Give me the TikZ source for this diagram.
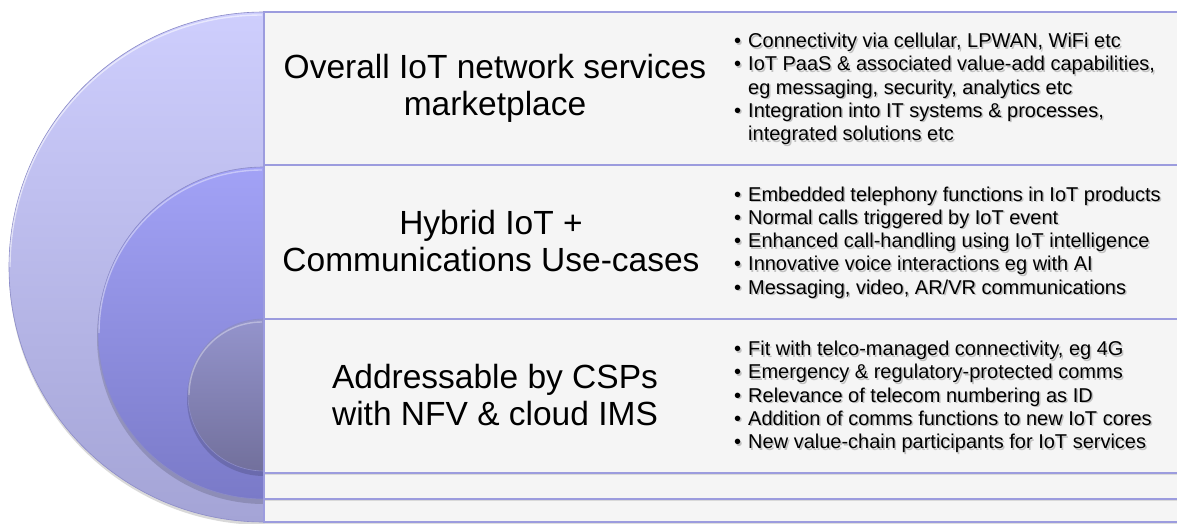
\documentclass[tikz,border=0pt]{standalone}
\usepackage{fontspec}
\setmainfont{Liberation Sans}
\definecolor{oTop}{HTML}{CECEFD}
\definecolor{oBot}{HTML}{A4A4D6}
\definecolor{mTop}{HTML}{A2A2F6}
\definecolor{mBot}{HTML}{7A7AC8}
\definecolor{iTop}{HTML}{9494CC}
\definecolor{iBot}{HTML}{72709C}
\definecolor{panelfill}{HTML}{F5F5F5}
\definecolor{panelline}{HTML}{9C9CDE}
\definecolor{ringedge}{HTML}{8C8CC8}
\newcommand{\bl}[1]{\makebox[14pt][l]{\textbullet}#1}
\newcommand{\cont}[1]{\hspace*{14pt}#1}
\begin{document}
\begin{tikzpicture}[x=1pt,y=1pt,
  panel/.style={fill=panelfill,draw=panelline,line width=1.2pt},
  ring/.style={draw=ringedge,line width=0.6pt},
  ringshadow/.style={fill=black,opacity=0.15},
  hilite/.style={draw=white,opacity=0.55,line width=1.4pt},
  title/.style={align=center,font=\fontsize{33.5}{37}\selectfont,text=black},
  bullets/.style={align=left,anchor=west,font=\fontsize{20}{23.3}\selectfont,text=black,inner sep=0pt},
  tshadow/.style={align=left,anchor=west,font=\fontsize{20}{23.3}\selectfont,text=black!45,opacity=0.5,inner sep=0pt}]
\useasboundingbox (0,0) rectangle (1177,523);
\fill[white] (0,0) rectangle (1177,523);
% panels
\path[panel] (264,1) rectangle (1180,511);
\draw[black!25,line width=1pt,opacity=0.5] (264,-0.5) -- (1180,-0.5);
\path[panel] (264,24) rectangle (1180,358);
\draw[black!25,line width=1pt,opacity=0.5] (264,22.5) -- (1180,22.5);
\path[panel] (264,50) rectangle (1180,204);
\draw[black!25,line width=1pt,opacity=0.5] (264,48.5) -- (1180,48.5);
% outer ring
\fill[ringshadow] (264,508) arc[start angle=90,end angle=270,radius=255] -- cycle;
\shade[ring,top color=oTop,bottom color=oBot] (264,511) arc[start angle=90,end angle=270,radius=255] -- cycle;
\draw[hilite] (262,508) arc[start angle=90,end angle=180,radius=252];
% middle ring
\fill[ringshadow] (264,353) arc[start angle=90,end angle=270,radius=167] -- cycle;
\shade[ring,top color=mTop,bottom color=mBot] (264,356) arc[start angle=90,end angle=270,radius=166] -- cycle;
\draw[hilite,opacity=0.4] (262,353) arc[start angle=90,end angle=180,radius=163];
% inner ring
\fill[ringshadow] (264,201) arc[start angle=90,end angle=270,radius=77] -- cycle;
\shade[ring,top color=iTop,bottom color=iBot] (264,204) arc[start angle=90,end angle=270,radius=76] -- cycle;
\draw[hilite,opacity=0.35] (262,201) arc[start angle=90,end angle=180,radius=73];
% divider line
\draw[panelline,line width=1.2pt] (264,0) -- (264,511);
% titles
\node[title] (t1) at (495,434.5) {Overall IoT network services\\marketplace};
\node[title] (t2) at (491,282) {Hybrid IoT +\\Communications Use-cases};
\node[title] (t3) at (495,128) {Addressable by CSPs\\with NFV \& cloud IMS};
% bullet shadows
\node[tshadow] (b1s) at (735.5,432.5) {\bl{Connectivity via cellular, LPWAN, WiFi etc}\\\bl{IoT PaaS \& associated value-add capabilities,}\\\cont{eg messaging, security, analytics etc}\\\bl{Integration into IT systems \& processes,}\\\cont{integrated solutions etc}};
\node[tshadow] (b2s) at (735.5,279) {\bl{Embedded telephony functions in IoT products}\\\bl{Normal calls triggered by IoT event}\\\bl{Enhanced call-handling using IoT intelligence}\\\bl{Innovative voice interactions eg with AI}\\\bl{Messaging, video, AR/VR communications}};
\node[tshadow] (b3s) at (735.5,124.5) {\bl{Fit with telco-managed connectivity, eg 4G}\\\bl{Emergency \& regulatory-protected comms}\\\bl{Relevance of telecom numbering as ID}\\\bl{Addition of comms functions to new IoT cores}\\\bl{New value-chain participants for IoT services}};
% bullets
\node[bullets] (b1) at (734,434) {\bl{Connectivity via cellular, LPWAN, WiFi etc}\\\bl{IoT PaaS \& associated value-add capabilities,}\\\cont{eg messaging, security, analytics etc}\\\bl{Integration into IT systems \& processes,}\\\cont{integrated solutions etc}};
\node[bullets] (b2) at (734,280.5) {\bl{Embedded telephony functions in IoT products}\\\bl{Normal calls triggered by IoT event}\\\bl{Enhanced call-handling using IoT intelligence}\\\bl{Innovative voice interactions eg with AI}\\\bl{Messaging, video, AR/VR communications}};
\node[bullets] (b3) at (734,126) {\bl{Fit with telco-managed connectivity, eg 4G}\\\bl{Emergency \& regulatory-protected comms}\\\bl{Relevance of telecom numbering as ID}\\\bl{Addition of comms functions to new IoT cores}\\\bl{New value-chain participants for IoT services}};
\end{tikzpicture}
\end{document}
